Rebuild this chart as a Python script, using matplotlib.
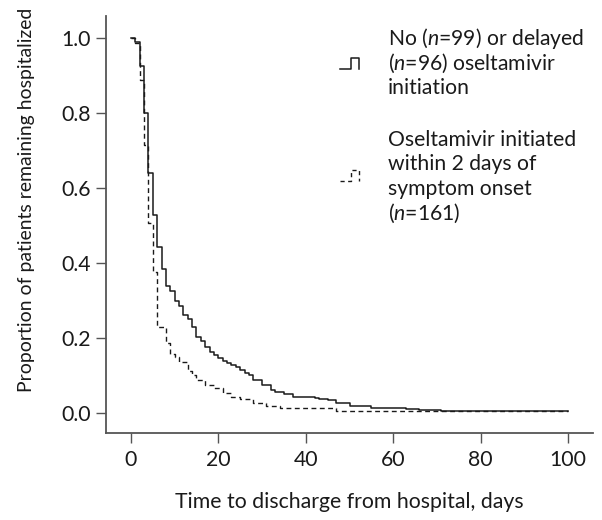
import matplotlib
matplotlib.use('Agg')
import matplotlib.pyplot as plt
from matplotlib.lines import Line2D

# ---- data ----
solid_days = [0, 1, 2, 3, 4, 5, 6, 7, 8, 9, 10, 11, 12, 13, 14, 15, 16, 17, 18, 19, 20,
              21, 22, 23, 24, 25, 26, 27, 28, 30, 32, 33, 35, 37, 42, 43, 45, 47, 50,
              55, 63, 66, 71, 100]
solid_surv = [1.0, 0.99, 0.925, 0.80, 0.64, 0.528, 0.443, 0.383, 0.338, 0.326, 0.298,
              0.285, 0.26, 0.251, 0.228, 0.202, 0.193, 0.177, 0.163, 0.154, 0.147,
              0.139, 0.134, 0.129, 0.122, 0.115, 0.107, 0.102, 0.088, 0.075, 0.061,
              0.056, 0.051, 0.0435, 0.040, 0.036, 0.035, 0.026, 0.019, 0.013, 0.010,
              0.007, 0.005, 0.005]

dashed_days = [0, 1, 2, 3, 4, 5, 6, 8, 9, 10, 11, 13, 14, 15, 17, 19, 21, 23, 25, 28,
               31, 34, 47, 100]
dashed_surv = [1.0, 0.985, 0.887, 0.714, 0.507, 0.376, 0.230, 0.186, 0.158, 0.150,
               0.135, 0.113, 0.101, 0.087, 0.075, 0.066, 0.052, 0.043, 0.037, 0.027,
               0.019, 0.012, 0.006, 0.006]

x_ticks = [0, 20, 40, 60, 80, 100]
y_ticks = [0.0, 0.2, 0.4, 0.6, 0.8, 1.0]
y_tick_labels = ['0.0', '0.2', '0.4', '0.6', '0.8', '1.0']

legend_solid = ['No ($n$=99) or delayed', '($n$=96) oseltamivir', 'initiation']
legend_dashed = ['Oseltamivir initiated', 'within 2 days of', 'symptom onset', '($n$=161)']

x_label = 'Time to discharge from hospital, days'
y_label = 'Proportion of patients remaining hospitalized'

# ---- style ----
FAM = 'Lato'
plt.rcParams['font.family'] = [FAM, 'DejaVu Sans']
plt.rcParams['mathtext.fontset'] = 'custom'
plt.rcParams['mathtext.it'] = FAM + ':italic'
plt.rcParams['mathtext.rm'] = FAM
TXT = '#1a1a1a'
AXC = '#555555'

W, H = 602, 520
fig = plt.figure(figsize=(W / 100, H / 100), dpi=100)
renderer = fig.canvas.get_renderer()


def fit_size(text, target_px, ref_size=10.0):
    t = fig.text(0, 0, text, fontsize=ref_size)
    w = t.get_window_extent(renderer=renderer).width
    t.remove()
    return ref_size * target_px / w


FS_X = fit_size(x_label, 348)
FS_Y = fit_size(y_label, 386)
FS_LEG = fit_size(legend_solid[0], 197)
FS_TICK = FS_X

ax = fig.add_axes([106 / W, 1 - 432.7 / H, (593 - 106) / W, (432.7 - 16) / H])

ax.step(solid_days, solid_surv, where='post', color='#1a1a1a', lw=1.1)
ax.step(dashed_days, dashed_surv, where='post', color='#1a1a1a', lw=1.0,
        linestyle=(0, (3.5, 2.5)))

ax.set_xlim(-5.7, 105.7)
ax.set_ylim(-0.0525, 1.058)
for s in ['top', 'right']:
    ax.spines[s].set_visible(False)
for s in ['left', 'bottom']:
    ax.spines[s].set_color(AXC)
    ax.spines[s].set_linewidth(1.3)

ax.set_xticks(x_ticks)
ax.set_xticklabels([str(v) for v in x_ticks])
ax.set_yticks(y_ticks)
ax.set_yticklabels(y_tick_labels)
ax.tick_params(axis='both', direction='out', length=7.2, width=1.0, color=AXC,
               labelsize=FS_TICK, labelcolor=TXT)
ax.tick_params(axis='y', pad=3.6)
ax.tick_params(axis='x', pad=5.0)

fig.text(349 / W, 1 - 508 / H, x_label, ha='center', va='baseline',
         fontsize=FS_X, color=TXT)
fig.text(26.5 / W, 1 - 200 / H, y_label, ha='center', va='center',
         rotation=90, fontsize=FS_Y, color=TXT)

# ---- legend ----
tx = 388 / W
base1 = [45, 69.5, 94]
for yb, t in zip(base1, legend_solid):
    fig.text(tx, 1 - yb / H, t, ha='left', va='baseline', fontsize=FS_LEG, color=TXT)
base2 = [146, 170.5, 195, 219.5]
for yb, t in zip(base2, legend_dashed):
    fig.text(tx, 1 - yb / H, t, ha='left', va='baseline', fontsize=FS_LEG, color=TXT)


def pulse(y_low, y_high, ls, lw):
    xs = [340, 350.5, 350.5, 359, 359]
    ys = [y_low, y_low, y_high, y_high, y_low]
    fig.add_artist(Line2D([x / W for x in xs], [1 - y / H for y in ys],
                          transform=fig.transFigure, color='#1a1a1a', lw=lw, ls=ls))


pulse(68.5, 57.5, '-', 1.1)
pulse(181, 169.5, (0, (3.0, 2.5)), 1.0)

fig.savefig('out.png', dpi=100)
